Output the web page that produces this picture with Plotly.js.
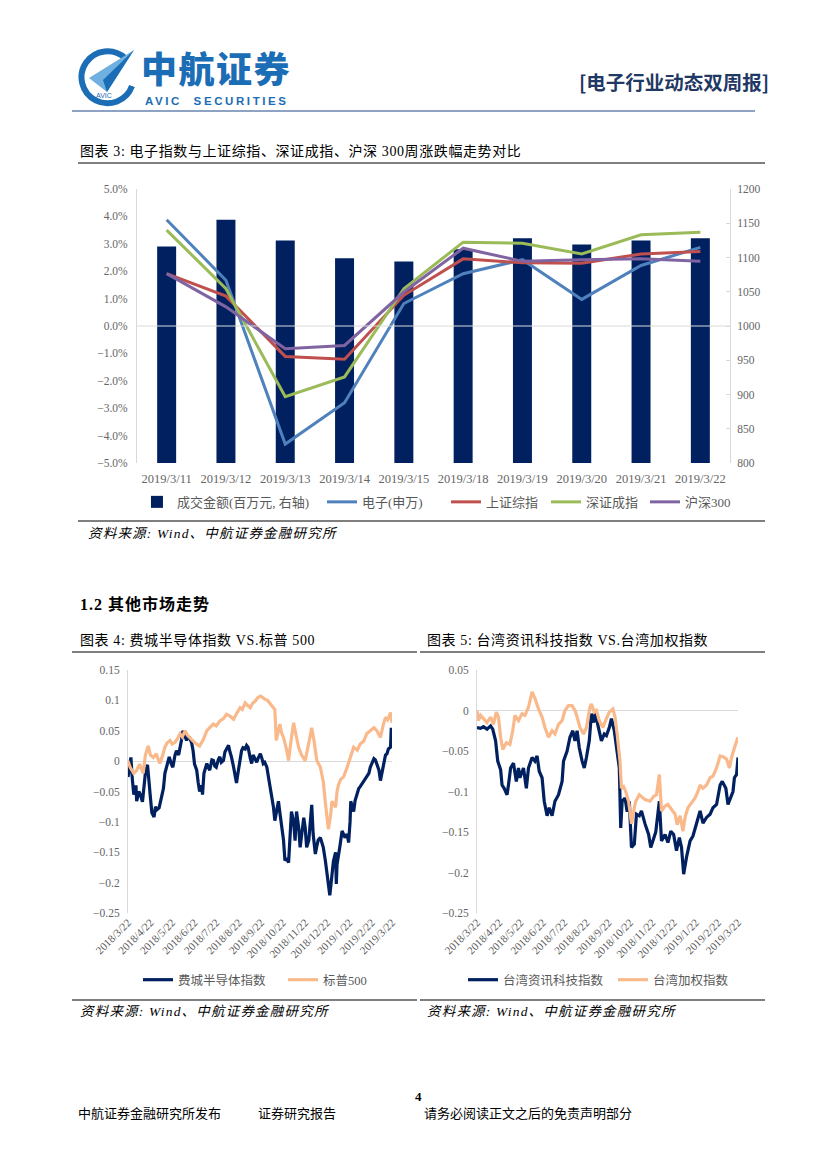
<!DOCTYPE html>
<html><head><meta charset="utf-8">
<script src="https://cdn.plot.ly/plotly-3.0.1.min.js"></script>
<style>
body{margin:0;background:#fff;}
#page{position:relative;width:827px;height:1169px;overflow:hidden;background:#fff;font-family:"Liberation Serif","Noto Sans CJK SC",serif;color:#000;}
.abs{position:absolute;white-space:nowrap;}
.hl{position:absolute;height:2px;background:#7f7f7f;}
.cap{font-size:14px;letter-spacing:0.6px;line-height:16px;}
.src{font-size:13.5px;font-style:italic;letter-spacing:1.2px;line-height:15px;}
.ft{font-family:"Noto Sans CJK SC",sans-serif;font-size:13px;line-height:15px;}
</style></head><body><div id="page">

<svg class="abs" style="left:76px;top:46px" width="62" height="62" viewBox="0 0 62 62">
  <path d="M49 12 A26 26 0 1 0 56 40" fill="none" stroke="#1B6DB5" stroke-width="6"/>
  <polygon points="13,32 58,4 31,46" fill="#6FB0E0"/>
  <polygon points="31,46 58,4 27,34" fill="#1B6DB5"/>
  <text x="20" y="52" font-size="7" font-family="Liberation Sans" fill="#1B6DB5">AVIC</text>
</svg>
<div class="abs" style="left:141px;top:49px;font-family:'Noto Sans CJK SC';font-weight:900;font-size:36px;line-height:36px;color:#1B6DB5;letter-spacing:1.5px;">中航证券</div>
<div class="abs" style="left:145px;top:95px;font-family:'Liberation Sans';font-weight:bold;font-size:11.5px;line-height:12px;color:#1B6DB5;letter-spacing:2.6px;">AVIC&nbsp;&nbsp;SECURITIES</div>
<div class="abs" style="left:579px;top:69px;font-family:'Noto Sans CJK SC';font-weight:bold;font-size:19.5px;line-height:26px;color:#1F3864;">[电子行业动态双周报]</div>
<div class="hl" style="left:72px;top:110px;width:683px;background:#8EA3C4;"></div>

<div class="abs cap" style="left:80px;top:144px;">图表 3: 电子指数与上证综指、深证成指、沪深 300周涨跌幅走势对比</div>
<div class="hl" style="left:78px;top:162px;width:687px;"></div>
<div id="c1" class="abs" style="left:60px;top:170px;width:720px;height:350px;"></div>
<div class="hl" style="left:78px;top:520px;width:687px;"></div>
<div class="abs src" style="left:88px;top:526px;">资料来源: Wind、中航证券金融研究所</div>

<div class="abs" style="left:80px;top:596px;font-weight:bold;font-size:16px;line-height:18px;letter-spacing:1px;">1.2 其他市场走势</div>

<div class="abs cap" style="left:80px;top:633px;">图表 4: 费城半导体指数 VS.标普 500</div>
<div class="hl" style="left:72px;top:651px;width:345px;"></div>
<div class="abs cap" style="left:427px;top:633px;">图表 5: 台湾资讯科技指数 VS.台湾加权指数</div>
<div class="hl" style="left:420px;top:651px;width:345px;"></div>

<div id="c2" class="abs" style="left:60px;top:655px;width:360px;height:345px;"></div>
<div id="c3" class="abs" style="left:410px;top:655px;width:360px;height:345px;"></div>
<div class="hl" style="left:72px;top:999px;width:345px;"></div>
<div class="hl" style="left:420px;top:999px;width:345px;"></div>
<div class="abs src" style="left:80px;top:1004px;">资料来源: Wind、中航证券金融研究所</div>
<div class="abs src" style="left:427px;top:1004px;">资料来源: Wind、中航证券金融研究所</div>

<div class="abs" style="left:415px;top:1089px;font-weight:bold;font-size:13px;line-height:15px;">4</div>
<div class="abs ft" style="left:78px;top:1105px;">中航证券金融研究所发布</div>
<div class="abs ft" style="left:258px;top:1105px;">证券研究报告</div>
<div class="abs ft" style="left:424px;top:1105px;">请务必阅读正文之后的免责声明部分</div>

</div>
<script>
// ---------- Chart 3 data ----------
const weekDates = ['2019/3/11','2019/3/12','2019/3/13','2019/3/14','2019/3/15','2019/3/18','2019/3/19','2019/3/20','2019/3/21','2019/3/22'];
const turnover = [1116,1155,1125,1099,1094,1112,1128,1119,1125,1128];
const elecSW = [3.88,1.67,-4.31,-2.80,0.82,1.91,2.42,0.97,2.21,2.87];
const shComp = [1.91,1.09,-1.11,-1.21,1.12,2.45,2.31,2.29,2.63,2.72];
const szComp = [3.50,1.36,-2.58,-1.86,1.36,3.06,3.02,2.63,3.33,3.42];
const hs300 = [1.91,0.70,-0.83,-0.71,1.24,2.84,2.36,2.42,2.45,2.36];

// ---------- Chart 4/5 data: [day offset from 2018/3/22, value] ----------
const monthTickDays = [0,31,61,92,122,153,184,214,245,275,306,337,365];
const monthTickLabels = ['2018/3/22','2018/4/22','2018/5/22','2018/6/22','2018/7/22','2018/8/22','2018/9/22','2018/10/22','2018/11/22','2018/12/22','2019/1/22','2019/2/22','2019/3/22'];

const soxIdx = [[0,-0.026],[2,-0.01],[4,0.006],[6,-0.03],[8,-0.055],[11,-0.04],[12,-0.066],[15,-0.05],[17,-0.055],[20,-0.067],[22,-0.04],[24,-0.02],[27,-0.006],[29,-0.04],[31,-0.06],[33,-0.085],[36,-0.092],[38,-0.075],[40,-0.08],[43,-0.077],[46,-0.06],[49,-0.045],[51,-0.02],[54,-0.004],[57,0.007],[60,-0.005],[62,-0.01],[65,0.01],[67,0.017],[70,0.01],[73,0.025],[74,0.035],[76,0.05],[79,0.04],[81,0.034],[83,0.04],[85,0.039],[88,0.03],[90,0.017],[92,-0.005],[95,-0.015],[97,-0.035],[99,-0.05],[102,-0.04],[103,-0.055],[105,-0.02],[109,-0.004],[111,-0.01],[113,-0.015],[116,0.002],[118,0.001],[120,-0.008],[122,-0.01],[125,0.003],[127,0.007],[129,-0.002],[132,0.001],[134,0.015],[136,0.02],[139,0.026],[141,0.015],[143,0.007],[146,-0.01],[148,-0.026],[150,-0.036],[152,-0.02],[155,0.005],[157,0.017],[159,0.022],[162,0.02],[164,0.026],[166,0.023],[169,0.005],[171,-0.004],[173,0.01],[176,0.004],[178,-0.002],[180,0.005],[183,0.012],[185,0.005],[187,-0.004],[189,-0.002],[192,-0.01],[194,-0.025],[196,-0.04],[199,-0.055],[201,-0.075],[203,-0.098],[206,-0.08],[208,-0.066],[210,-0.085],[212,-0.104],[215,-0.13],[217,-0.164],[219,-0.16],[222,-0.167],[224,-0.12],[226,-0.083],[229,-0.1],[231,-0.131],[233,-0.083],[236,-0.11],[238,-0.142],[240,-0.12],[243,-0.093],[245,-0.11],[247,-0.142],[250,-0.13],[252,-0.1],[254,-0.072],[256,-0.12],[259,-0.153],[261,-0.14],[263,-0.13],[266,-0.126],[268,-0.135],[270,-0.142],[273,-0.165],[275,-0.186],[277,-0.205],[279,-0.221],[280,-0.21],[282,-0.186],[284,-0.165],[287,-0.15],[288,-0.202],[289,-0.17],[291,-0.15],[293,-0.14],[296,-0.115],[298,-0.12],[300,-0.126],[303,-0.12],[305,-0.134],[307,-0.1],[308,-0.066],[310,-0.075],[312,-0.083],[314,-0.065],[317,-0.05],[319,-0.045],[321,-0.042],[323,-0.038],[326,-0.034],[328,-0.03],[330,-0.026],[333,-0.02],[335,-0.01],[337,-0.005],[340,0.004],[342,0.002],[344,-0.004],[347,-0.015],[349,-0.032],[351,-0.02],[353,-0.004],[356,0.01],[358,0.012],[360,0.02],[363,0.023],[364,0.055],[365,0.028]];

const spxIdx = [[0,0],[3,-0.01],[8,-0.02],[12,-0.015],[16,-0.005],[21,-0.02],[24,0.01],[28,0.025],[31,0.01],[35,0.006],[39,0.012],[44,-0.004],[48,0.01],[51,0.023],[54,0.03],[58,0.034],[61,0.028],[65,0.031],[68,0.036],[72,0.045],[75,0.04],[79,0.05],[82,0.043],[85,0.039],[90,0.033],[95,0.028],[99,0.025],[104,0.035],[109,0.05],[113,0.055],[118,0.061],[122,0.058],[127,0.066],[132,0.07],[136,0.077],[141,0.074],[146,0.069],[150,0.078],[155,0.088],[158,0.085],[162,0.096],[165,0.092],[169,0.088],[172,0.095],[176,0.099],[179,0.104],[183,0.107],[186,0.105],[189,0.102],[193,0.1],[196,0.096],[200,0.09],[203,0.085],[205,0.034],[208,0.05],[210,0.061],[212,0.048],[215,0.039],[219,0.02],[222,0.001],[225,0.03],[229,0.063],[232,0.045],[236,0.022],[240,0.01],[245,0.001],[250,0.03],[254,0.055],[257,0.035],[261,0.001],[266,-0.01],[270,-0.034],[273,-0.07],[275,-0.098],[277,-0.112],[280,-0.09],[282,-0.066],[284,-0.07],[287,-0.076],[289,-0.05],[291,-0.039],[294,-0.03],[298,-0.026],[303,-0.01],[307,0.006],[312,0.023],[317,0.018],[321,0.028],[326,0.033],[330,0.045],[335,0.05],[340,0.055],[344,0.05],[349,0.039],[353,0.06],[356,0.072],[359,0.068],[363,0.08],[365,0.063]];

const twItIdx = [[0,-0.021],[5,-0.022],[9,-0.02],[14,-0.023],[19,-0.019],[22,-0.023],[26,-0.0375],[29,-0.0625],[33,-0.073],[35,-0.092],[38,-0.096],[42,-0.104],[44,-0.092],[47,-0.071],[51,-0.065],[55,-0.0875],[58,-0.071],[60,-0.083],[65,-0.071],[69,-0.096],[72,-0.071],[77,-0.058],[81,-0.0625],[84,-0.056],[87,-0.075],[91,-0.083],[94,-0.112],[98,-0.13],[101,-0.12],[105,-0.13],[109,-0.112],[114,-0.104],[119,-0.0875],[121,-0.0625],[126,-0.05],[130,-0.033],[134,-0.025],[137,-0.0375],[140,-0.025],[143,-0.046],[147,-0.0625],[150,-0.071],[153,-0.058],[157,-0.0375],[160,-0.004],[163,-0.015],[165,-0.002],[168,-0.0125],[172,-0.029],[174,-0.0375],[178,-0.029],[181,-0.031],[185,-0.021],[188,-0.01],[192,-0.025],[195,-0.046],[199,-0.071],[201,-0.145],[203,-0.112],[207,-0.108],[210,-0.125],[213,-0.112],[216,-0.169],[220,-0.165],[223,-0.128],[227,-0.13],[230,-0.124],[235,-0.14],[240,-0.153],[243,-0.169],[247,-0.157],[250,-0.15],[255,-0.112],[258,-0.161],[263,-0.153],[267,-0.163],[271,-0.149],[275,-0.153],[279,-0.173],[283,-0.157],[286,-0.169],[289,-0.202],[293,-0.181],[298,-0.161],[302,-0.155],[307,-0.14],[312,-0.124],[316,-0.139],[321,-0.132],[326,-0.128],[330,-0.12],[335,-0.116],[340,-0.092],[343,-0.0875],[348,-0.096],[351,-0.116],[354,-0.108],[358,-0.1],[360,-0.083],[363,-0.079],[365,-0.058]];

const twiiIdx = [[0,0],[2,-0.0125],[5,-0.006],[9,-0.01],[14,-0.015],[19,-0.008],[23,-0.017],[27,-0.002],[30,-0.008],[33,-0.033],[36,-0.048],[41,-0.04],[46,-0.042],[50,-0.025],[53,-0.006],[58,-0.0125],[63,-0.004],[67,-0.006],[72,0.004],[77,0.023],[81,0.015],[86,0.002],[91,-0.008],[95,-0.021],[100,-0.033],[105,-0.025],[109,-0.029],[114,-0.017],[119,-0.0125],[123,0],[128,0.006],[133,0.006],[137,0],[140,-0.008],[144,-0.021],[149,-0.029],[153,-0.021],[158,0.004],[160,0.008],[164,-0.002],[167,0],[171,-0.0125],[176,-0.021],[180,-0.012],[185,-0.002],[190,0.002],[193,-0.008],[196,-0.029],[200,-0.0625],[202,-0.096],[205,-0.094],[208,-0.1],[212,-0.112],[214,-0.125],[216,-0.14],[220,-0.12],[222,-0.112],[227,-0.104],[230,-0.106],[235,-0.11],[242,-0.112],[247,-0.106],[251,-0.104],[255,-0.079],[258,-0.124],[263,-0.118],[267,-0.116],[272,-0.122],[277,-0.128],[280,-0.141],[284,-0.13],[286,-0.139],[288,-0.149],[291,-0.132],[295,-0.12],[300,-0.114],[305,-0.108],[309,-0.1],[312,-0.092],[316,-0.096],[321,-0.092],[326,-0.083],[330,-0.081],[335,-0.071],[340,-0.056],[344,-0.057],[349,-0.06],[353,-0.071],[356,-0.058],[360,-0.046],[365,-0.033]];

// ---------- styles ----------
const NAVY = '#002060', PEACH = '#F9B98B';
const numFont = {family:'Liberation Serif, Noto Sans CJK SC', size:11.5, color:'#666666'};
const legFont1 = {family:'Liberation Serif, Noto Sans CJK SC', size:13, color:'#595959'};
const legFont2 = {family:'Liberation Serif, Noto Sans CJK SC', size:12.5, color:'#595959'};
const cfg = {staticPlot:true, displayModeBar:false};
function leg(x, y, font){
  return {orientation:'h', xref:'container', x:x, xanchor:'left', y:y, yanchor:'middle', font:font, itemwidth:30, bgcolor:'rgba(0,0,0,0)'};
}

// ---------- Chart 3 ----------
Plotly.newPlot('c1', [
  {type:'bar', x:weekDates, y:turnover, name:'成交金额(百万元, 右轴)', marker:{color:NAVY}, yaxis:'y', legend:'legend'},
  {type:'scatter', mode:'lines', x:weekDates, y:elecSW, name:'电子(申万)', line:{color:'#4F81BD', width:3}, yaxis:'y2', legend:'legend2'},
  {type:'scatter', mode:'lines', x:weekDates, y:shComp, name:'上证综指', line:{color:'#C0504D', width:3}, yaxis:'y2', legend:'legend3'},
  {type:'scatter', mode:'lines', x:weekDates, y:szComp, name:'深证成指', line:{color:'#9BBB59', width:3}, yaxis:'y2', legend:'legend4'},
  {type:'scatter', mode:'lines', x:weekDates, y:hs300, name:'沪深300', line:{color:'#8064A2', width:3}, yaxis:'y2', legend:'legend5'}
], {
  width:720, height:350, margin:{l:77, r:50, t:19, b:57, autoexpand:false},
  paper_bgcolor:'#fff', plot_bgcolor:'rgba(0,0,0,0)',
  bargap:0.68, showlegend:true,
  legend:leg(0.1069,-0.142,legFont1), legend2:leg(0.3639,-0.142,legFont1), legend3:leg(0.5361,-0.142,legFont1),
  legend4:leg(0.675,-0.142,legFont1), legend5:leg(0.8125,-0.142,legFont1),
  xaxis:{type:'category', tickfont:{family:'Liberation Serif', size:12.5, color:'#666666'}, ticklabelstandoff:6, showgrid:false, showline:false, ticks:'', zeroline:false},
  yaxis:{side:'right', range:[800,1200], dtick:50, tickfont:numFont, ticklabelstandoff:4, showgrid:false, zeroline:false, showline:true, linecolor:'#d9d9d9', ticks:'inside', ticklen:4, tickcolor:'#d9d9d9'},
  yaxis2:{overlaying:'y', side:'left', range:[-5,5], dtick:1, tickformat:'.1f', ticksuffix:'%', tickfont:numFont, ticklabelstandoff:6, showgrid:false, zeroline:false, showline:true, linecolor:'#d9d9d9', ticks:''},
  shapes:[{type:'line', xref:'paper', yref:'y2', x0:0, x1:1, y0:0, y1:0, line:{color:'#d9d9d9', width:1}, layer:'above'}]
}, cfg);

// ---------- Chart 4 / 5 ----------
function lineTrace(pairs, name, color, lg){
  return {type:'scatter', mode:'lines', x:pairs.map(p=>p[0]), y:pairs.map(p=>p[1]), name:name, line:{color:color, width:3.2}, legend:lg};
}
function tsLayout(yr, l, r, lx1, lx2){
  return {
    width:360, height:345, margin:{l:l, r:r, t:15, b:87, autoexpand:false},
    paper_bgcolor:'#fff', plot_bgcolor:'#fff', showlegend:true,
    legend:leg(lx1,-0.276,legFont2), legend2:leg(lx2,-0.276,legFont2),
    xaxis:{range:[0,365], tickvals:monthTickDays, ticktext:monthTickLabels, tickangle:-45, tickfont:{family:'Liberation Serif', size:11, color:'#595959'}, showgrid:false, zeroline:false, showline:false, ticks:''},
    yaxis:{range:yr, dtick:0.05, tickfont:numFont, ticklabelstandoff:5, showgrid:false, zeroline:true, zerolinecolor:'#d9d9d9', zerolinewidth:1, showline:true, linecolor:'#d9d9d9', ticks:''}
  };
}
Plotly.newPlot('c2', [lineTrace(soxIdx,'费城半导体指数',NAVY,'legend'), lineTrace(spxIdx,'标普500',PEACH,'legend2')], tsLayout([-0.25,0.15],68,28,0.2167,0.6194), cfg);
Plotly.newPlot('c3', [lineTrace(twItIdx,'台湾资讯科技指数',NAVY,'legend'), lineTrace(twiiIdx,'台湾加权指数',PEACH,'legend2')], tsLayout([-0.25,0.05],67,32,0.1472,0.5639), cfg);
</script>
</body></html>
